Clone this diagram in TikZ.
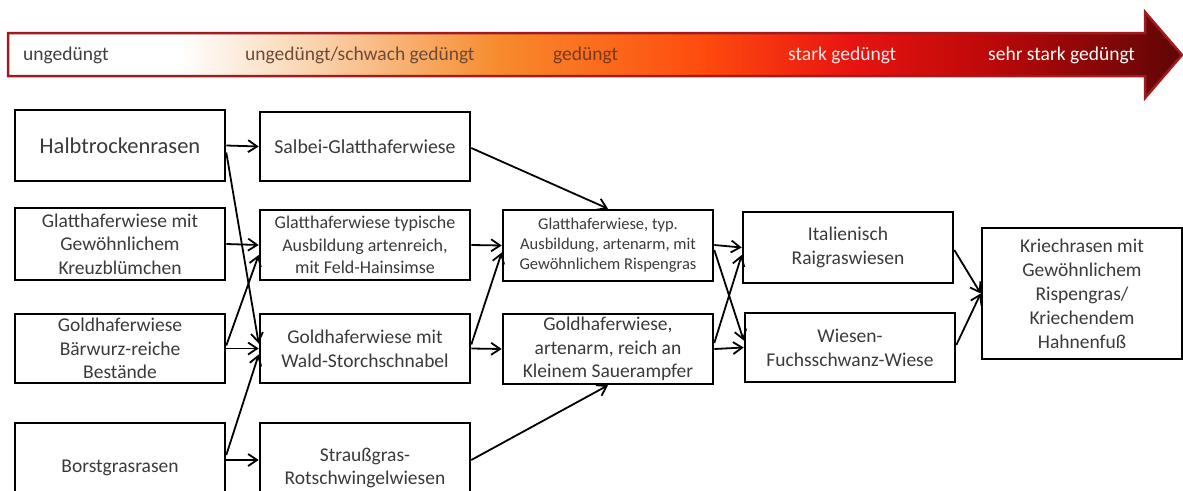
\documentclass[tikz,border=0pt]{standalone}
\usepackage{fontspec}
\setmainfont{Carlito}
\usetikzlibrary{arrows.meta,calc}
\definecolor{txt}{HTML}{3A3A3A}
\definecolor{barborder}{HTML}{9E1B20}
\definecolor{peach}{HTML}{F9CDA3}
\definecolor{orangeA}{HTML}{F78A2C}
\definecolor{orangeB}{HTML}{FF4C0E}
\definecolor{redA}{HTML}{E81410}
\definecolor{redB}{HTML}{B80808}
\definecolor{redC}{HTML}{5E0606}
\definecolor{lblA}{HTML}{404040}
\definecolor{lblB}{HTML}{6E4A36}
\definecolor{lblC}{HTML}{7A3A1E}
\definecolor{lblD}{HTML}{FBE9E7}
\begin{document}
\begin{tikzpicture}[x=1pt,y=-1pt,
  box/.style={draw=black,line width=2.6pt,minimum width=210pt,align=center,text=txt,inner sep=2pt,
    font=\fontsize{19.5}{23.3}\selectfont},
  arr/.style={line width=1.8pt,-{Straight Barb[length=9pt,width=12pt,line width=1.8pt]}},
  lbl/.style={anchor=west,inner sep=0pt,font=\fontsize{19.5}{23}\selectfont}]
\useasboundingbox (0,0) rectangle (1183,490);
\clip (0,0) rectangle (1183,490);
% gradient arrow
\coordinate (b1) at (8,33);
\coordinate (b2) at (1145,33);
\coordinate (b3) at (1145,12);
\coordinate (b4) at (1182,55);
\coordinate (b5) at (1145,98);
\coordinate (b6) at (1145,76);
\coordinate (b7) at (8,76);
\begin{scope}
\clip (b1) -- (b2) -- (b3) -- (b4) -- (b5) -- (b6) -- (b7) -- cycle;
\fill[white] (8,10) rectangle (181,100);
\shade[left color=white,right color=peach] (180,10) rectangle (331,100);
\shade[left color=peach,right color=orangeA] (330,10) rectangle (501,100);
\shade[left color=orangeA,right color=orangeB] (500,10) rectangle (701,100);
\shade[left color=orangeB,right color=redA] (700,10) rectangle (851,100);
\shade[left color=redA,right color=redB] (850,10) rectangle (1001,100);
\shade[left color=redB,right color=redC] (1000,10) rectangle (1183,100);
\end{scope}
\draw[barborder,line width=2.5pt,line join=miter] (b1) -- (b2) -- (b3) -- (b4) -- (b5) -- (b6) -- (b7) -- cycle;
\node[lbl,text=lblA] (l1) at (23,55) {ungedüngt};
\node[lbl,text=lblB] (l2) at (245,55) {ungedüngt/schwach gedüngt};
\node[lbl,text=lblC] (l3) at (553,55) {gedüngt};
\node[lbl,text=lblD] (l4) at (788,55) {stark gedüngt};
\node[lbl,text=white] (l5) at (988,55) {sehr stark gedüngt};
% column 1
\node[box,minimum height=71pt,font=\fontsize{22.5}{27}\selectfont] (h1) at (120,145.5) {Halbtrockenrasen};
\node[box,minimum height=72pt] (h2) at (120,244) {Glatthaferwiese mit\\Gewöhnlichem\\Kreuzblümchen};
\node[box,minimum height=69pt] (h3) at (120,348.5) {Goldhaferwiese\\Bärwurz-reiche\\Bestände};
\node[box,minimum height=90pt] (h4) at (120,468) {Borstgrasrasen};
% column 2
\node[box,minimum height=69pt,font=\fontsize{19.8}{23.5}\selectfont] (s1) at (365,146.5) {Salbei-Glatthaferwiese};
\node[box,minimum height=70pt,font=\fontsize{18}{22.5}\selectfont] (s2) at (365,245) {Glatthaferwiese typische\\Ausbildung artenreich,\\mit Feld-Hainsimse};
\node[box,minimum height=69pt,font=\fontsize{19.5}{23.8}\selectfont] (s3) at (365,348.5) {Goldhaferwiese mit\\Wald-Storchschnabel};
\node[box,minimum height=90pt,font=\fontsize{19.5}{23.8}\selectfont] (s4) at (365,468) {Straußgras-\\Rotschwingelwiesen};
% column 3
\node[box,minimum height=71pt,font=\fontsize{16.5}{20}\selectfont] (t1) at (608,245.5) {Glatthaferwiese, typ.\\Ausbildung, artenarm, mit\\Gewöhnlichem Rispengras};
\node[box,minimum height=70pt] (t2) at (608,349) {Goldhaferwiese,\\artenarm, reich an\\Kleinem Sauerampfer};
% column 4
\node[box,minimum height=71pt,font=\fontsize{19.5}{23.8}\selectfont] (u1) at (848,247.5) {Italienisch\\Raigraswiesen};
\node[box,minimum height=69pt,font=\fontsize{19.5}{23.8}\selectfont] (u2) at (850,347.5) {Wiesen-\\Fuchsschwanz-Wiese};
% column 5
\node[box,minimum width=200pt,minimum height=131pt,font=\fontsize{19.5}{24}\selectfont] (k) at (1082,293.5) {Kriechrasen mit\\Gewöhnlichem\\Rispengras/\\Kriechendem\\Hahnenfuß};
% connectors
\draw[arr] (h1.east) -- (s1.west);
\draw[arr] ($(h1.east)+(0,7)$) -- ($(s3.west)+(0,-5)$);
\draw[arr] (h2.east) -- (s2.west);
\draw[arr] ($(h3.east)+(0,-3)$) -- ($(s2.west)+(0,10)$);
\draw[arr] (h3.east) -- (s3.west);
\draw[arr] ($(h4.east)+(0,-13)$) -- ($(s3.west)+(0,6)$);
\draw[arr] ($(h4.east)+(0,-8)$) -- ($(s4.west)+(0,-8)$);
\draw[arr] ($(s1.east)+(0,1.5)$) -- (t1.north);
\draw[arr] (s2.east) -- (t1.west);
\draw[arr] ($(s3.east)+(0,-4)$) -- ($(t1.west)+(0,7)$);
\draw[arr] (s3.east) -- (t2.west);
\draw[arr] ($(s4.east)+(0,-8)$) -- (t2.south);
\draw[arr] ($(t1.east)+(0,-0.5)$) -- (u1.west);
\draw[arr] ($(t1.east)+(0,4.5)$) -- ($(u2.west)+(0,-7)$);
\draw[arr] ($(t2.east)+(0,-6)$) -- ($(u1.west)+(0,7.5)$);
\draw[arr] (t2.east) -- (u2.west);
\draw[arr] ($(u1.east)+(0,2.5)$) -- (k.west);
\draw[arr] ($(u2.east)+(0,-2.5)$) -- (k.west);
\end{tikzpicture}
\end{document}
